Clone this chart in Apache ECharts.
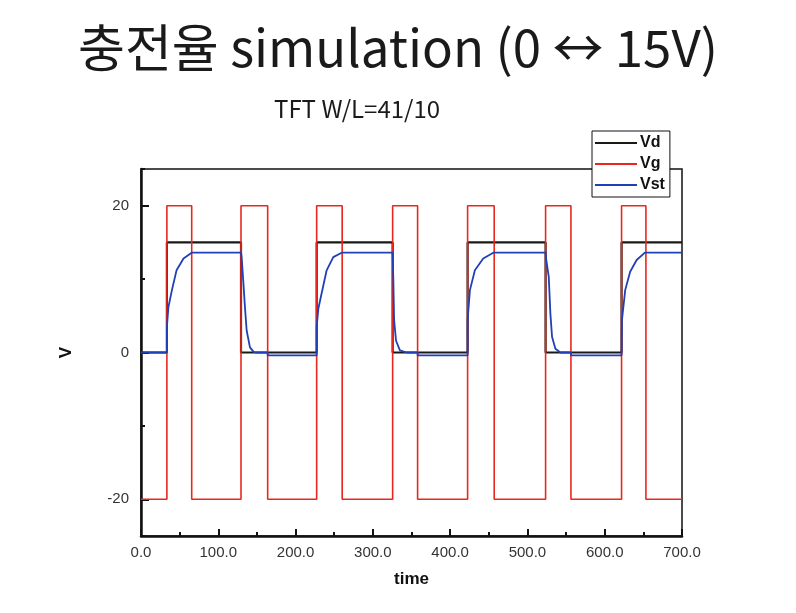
<!DOCTYPE html>
<html>
<head>
<meta charset="utf-8">
<script src="https://cdn.jsdelivr.net/npm/echarts@6/dist/echarts.min.js"></script>
<style>
html,body{margin:0;padding:0;background:#fff;}
#chart{width:796px;height:613px;}
</style>
</head>
<body>
<div id="chart"></div>
<script>
// ---- data ----
var xTicks = [0, 100, 200, 300, 400, 500, 600, 700];
var yTickLabels = [-20, 0, 20];
var yMinorTicks = [-10, 10];

var vdPoints = [
  [0, 0], [33.5, 0], [33.5, 15], [129.4, 15], [129.4, 0], [227.3, 0], [227.3, 15],
  [325.6, 15], [325.6, 0], [422.6, 0], [422.6, 15], [523.5, 15], [523.5, 0],
  [621.8, 0], [621.8, 15], [700, 15]
];

var vgPoints = [
  [0, -20], [33.5, -20], [33.5, 20], [65.6, 20], [65.6, -20],
  [129.4, -20], [129.4, 20], [163.9, 20], [163.9, -20],
  [227.3, -20], [227.3, 20], [260.3, 20], [260.3, -20],
  [325.6, -20], [325.6, 20], [357.9, 20], [357.9, -20],
  [422.6, -20], [422.6, 20], [457.0, 20], [457.0, -20],
  [523.5, -20], [523.5, 20], [556.3, 20], [556.3, -20],
  [621.8, -20], [621.8, 20], [653.3, 20], [653.3, -20], [700, -20]
];

var vstPoints = [
  [0, 0], [33.5, 0], [33.5, 3.5], [35.5, 6.2], [40, 8.5], [46, 11.2], [55, 12.8], [65.5, 13.6],
  [129.4, 13.6], [130.2, 13.0], [132.3, 9.8], [134.5, 6.2], [136.7, 3.0], [141, 0.7], [146, 0.05], [150, 0],
  [163.9, 0], [163.9, -0.4],
  [227.3, -0.4], [227.3, 3.5], [229.5, 6.0], [233.6, 8.0], [240.2, 11.2], [248.8, 13.0], [259.6, 13.6],
  [325.6, 13.6], [326.5, 9.8], [327.5, 4.4], [330, 1.6], [335, 0.3], [343.7, 0],
  [357.9, 0], [357.9, -0.4],
  [422.6, -0.4], [422.6, 4.4], [425.6, 8.5], [432, 11.2], [442.8, 12.8], [455.8, 13.6],
  [523.5, 13.6], [524.5, 12.5], [527.6, 10.3], [529.7, 5.3], [531.9, 2.1], [536.2, 0.5], [542.7, 0],
  [556.3, 0], [556.3, -0.4],
  [621.8, -0.4], [622.3, 4.4], [626.5, 8.5], [632.9, 11.0], [641.3, 12.6], [652, 13.6], [700, 13.6]
];

var seriesNames = ['Vd', 'Vg', 'Vst'];
var seriesColors = ['#1a1a14', '#e8281e', '#2040b8'];

// ---- chart ----
var chart = echarts.init(document.getElementById('chart'), null, {renderer: 'canvas'});
var labelFont = {fontFamily: 'Liberation Sans, Arial, sans-serif', fontSize: 15, color: '#333'};
var tickStyle = {color: '#111', width: 2};

chart.setOption({
  animation: false,
  backgroundColor: '#fff',
  title: [
    {
      text: '충전율 simulation (0 ↔ 15V)',
      left: 'center', top: 17,
      textStyle: {fontFamily: 'Noto Sans CJK KR', fontWeight: 'normal', fontSize: 51, color: '#1a1a1a'}
    },
    {
      text: 'TFT W/L=41/10',
      left: 269, top: 92,
      textStyle: {fontFamily: 'Noto Sans CJK KR', fontWeight: 'normal', fontSize: 24, color: '#1a1a1a'}
    }
  ],
  legend: {
    orient: 'vertical',
    left: 592, top: 131,
    data: seriesNames,
    icon: 'rect',
    itemWidth: 42, itemHeight: 2,
    itemGap: 5,
    padding: [4, 5, 4, 3],
    backgroundColor: '#fff',
    borderColor: '#111', borderWidth: 1,
    textStyle: {fontFamily: 'Liberation Sans, Arial, sans-serif', fontSize: 16, fontWeight: 'bold', color: '#111', padding: [0, 0, 0, -2]}
  },
  grid: {
    left: 141, right: 114, top: 169, bottom: 77,
    show: true, borderColor: '#111', borderWidth: 1.5, backgroundColor: 'transparent'
  },
  xAxis: {
    type: 'value', min: 0, max: 700, interval: 100,
    name: 'time', nameLocation: 'middle', nameGap: 35,
    nameTextStyle: {fontFamily: 'Liberation Sans, Arial, sans-serif', fontSize: 17, fontWeight: 'bold', color: '#111'},
    axisLine: {show: true, onZero: false, lineStyle: {color: '#111', width: 2.5}},
    axisTick: {show: true, inside: true, length: 7, lineStyle: tickStyle},
    minorTick: {show: true, splitNumber: 2, length: 4, lineStyle: tickStyle},
    axisLabel: Object.assign({formatter: function (v) { return v.toFixed(1); }, margin: 9}, labelFont),
    splitLine: {show: false}
  },
  yAxis: [
    {
      // major ticks and labels at -20, 0, 20 (auto "nice" interval of 20)
      type: 'value', min: -25, max: 25, splitNumber: 3,
      name: 'V', nameLocation: 'middle', nameGap: 66, nameRotate: 90,
      nameTextStyle: {fontFamily: 'Liberation Sans, Arial, sans-serif', fontSize: 17, fontWeight: 'bold', color: '#111'},
      axisLine: {show: true, onZero: false, lineStyle: {color: '#111', width: 2.5}},
      axisTick: {show: true, inside: true, length: 8, lineStyle: tickStyle},
      axisLabel: Object.assign({
        margin: 12, showMinLabel: false, showMaxLabel: false,
        formatter: function (v) { return yTickLabels.indexOf(v) >= 0 ? String(v) : ''; }
      }, labelFont),
      splitLine: {show: false}
    },
    {
      // short ticks at -10 and 10
      type: 'value', min: -25, max: 25, splitNumber: 5, position: 'left',
      axisLine: {show: false, onZero: false},
      axisTick: {show: true, inside: true, length: 4, lineStyle: tickStyle},
      axisLabel: {show: false},
      splitLine: {show: false}
    }
  ],
  series: [
    {name: seriesNames[0], type: 'line', data: vdPoints, showSymbol: false, symbol: 'none',
     lineStyle: {color: seriesColors[0], width: 2.2}, itemStyle: {color: seriesColors[0]}},
    {name: seriesNames[1], type: 'line', data: vgPoints, showSymbol: false, symbol: 'none',
     lineStyle: {color: seriesColors[1], width: 1.6}, itemStyle: {color: seriesColors[1]}},
    {name: seriesNames[2], type: 'line', data: vstPoints, showSymbol: false, symbol: 'none',
     lineStyle: {color: seriesColors[2], width: 1.8}, itemStyle: {color: seriesColors[2]}}
  ]
});
</script>
</body>
</html>
